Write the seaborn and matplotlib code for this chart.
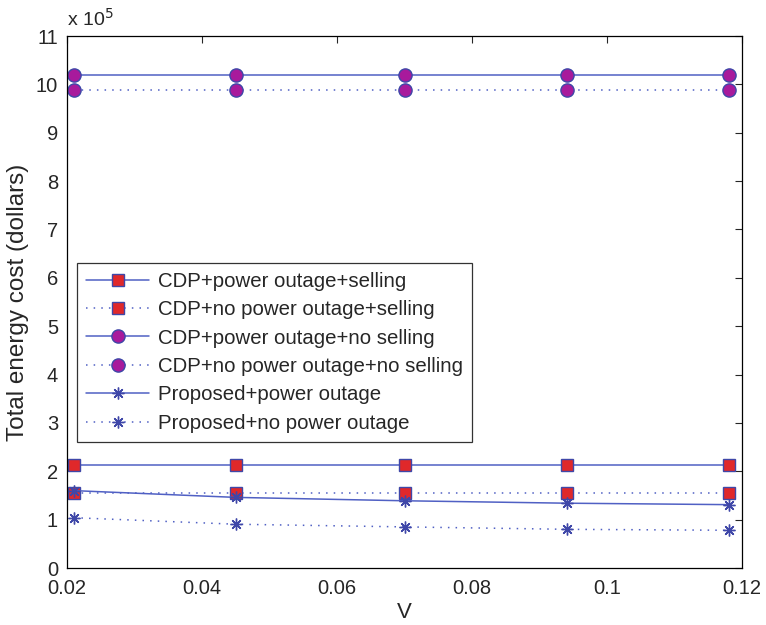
"""
Total energy cost vs V for CDP and proposed schemes
"""

import matplotlib
matplotlib.use('Agg')
import matplotlib.pyplot as plt
import seaborn as sns
import pandas as pd

sns.set_style("white")
plt.rcParams['font.family'] = ['Liberation Sans', 'DejaVu Sans']

# V values
v_values = [0.021, 0.045, 0.07, 0.094, 0.118]

# total energy cost, in units of 1e5 dollars
cdp_outage_selling = [2.14, 2.14, 2.14, 2.14, 2.14]
cdp_no_outage_selling = [1.55, 1.55, 1.55, 1.55, 1.55]
cdp_outage_no_selling = [10.2, 10.2, 10.2, 10.2, 10.2]
cdp_no_outage_no_selling = [9.88, 9.88, 9.88, 9.88, 9.88]
proposed_outage = [1.60, 1.46, 1.39, 1.34, 1.31]
proposed_no_outage = [1.04, 0.905, 0.85, 0.80, 0.78]

series_names = [
    'CDP+power outage+selling',
    'CDP+no power outage+selling',
    'CDP+power outage+no selling',
    'CDP+no power outage+no selling',
    'Proposed+power outage',
    'Proposed+no power outage',
]

LINE = '#5060c4'
EDGE = '#3f47a8'
SOLID = '-'
DOTTED = (0, (1, 4))
ASTERISK = (8, 2, 0)

styles = [
    dict(linestyle=SOLID, marker='s', markerfacecolor='#e0282a', markersize=8),
    dict(linestyle=DOTTED, marker='s', markerfacecolor='#e0282a', markersize=8),
    dict(linestyle=SOLID, marker='o', markerfacecolor='#a81a9c', markersize=9.5),
    dict(linestyle=DOTTED, marker='o', markerfacecolor='#a81a9c', markersize=9.5),
    dict(linestyle=SOLID, marker=ASTERISK, markerfacecolor=EDGE, markersize=8.5),
    dict(linestyle=DOTTED, marker=ASTERISK, markerfacecolor=EDGE, markersize=8.5),
]

all_values = [cdp_outage_selling, cdp_no_outage_selling, cdp_outage_no_selling,
              cdp_no_outage_no_selling, proposed_outage, proposed_no_outage]

fig = plt.figure(figsize=(7.66, 6.25), dpi=100)
ax = fig.add_axes([0.0875, 0.0912, 0.8812, 0.8512])

for name, vals, st in zip(series_names, all_values, styles):
    df = pd.DataFrame({'V': v_values, 'cost': vals})
    sns.lineplot(data=df, x='V', y='cost', ax=ax, label=name, sort=False,
                 color=LINE, linewidth=1.1, markeredgecolor=EDGE,
                 markeredgewidth=1.0, **st)

ax.set_xlim(0.02, 0.12)
ax.set_ylim(0, 11)
ax.set_xticks([0.02, 0.04, 0.06, 0.08, 0.1, 0.12])
ax.set_xticklabels(['0.02', '0.04', '0.06', '0.08', '0.1', '0.12'])
ax.set_yticks(range(0, 12))
ax.tick_params(direction='in', length=5, labelsize=14.5, top=True, right=True,
               width=0.8)
ax.tick_params(axis='x', pad=8)
ax.tick_params(axis='y', pad=6.5)
for sp in ax.spines.values():
    sp.set_color('black')
    sp.set_linewidth(0.9)

ax.set_xlabel('V', fontsize=16)
ax.xaxis.set_label_coords(0.5, -0.064)
ax.set_ylabel('Total energy cost (dollars)', fontsize=17.5)
ax.yaxis.set_label_coords(-0.056, 0.5)
ax.text(0.0, 1.019, r'x 10$^5$', transform=ax.transAxes, fontsize=14,
        ha='left', va='baseline')

leg = ax.legend(loc='lower left', bbox_to_anchor=(0.0148, 0.237), fontsize=14.7,
                handlelength=3.1, numpoints=1, frameon=True, fancybox=False,
                borderpad=0.45, labelspacing=0.46, handletextpad=0.4,
                borderaxespad=0)
leg.get_frame().set_edgecolor('black')
leg.get_frame().set_linewidth(0.9)

plt.savefig('out.png', dpi=100)
plt.close()
